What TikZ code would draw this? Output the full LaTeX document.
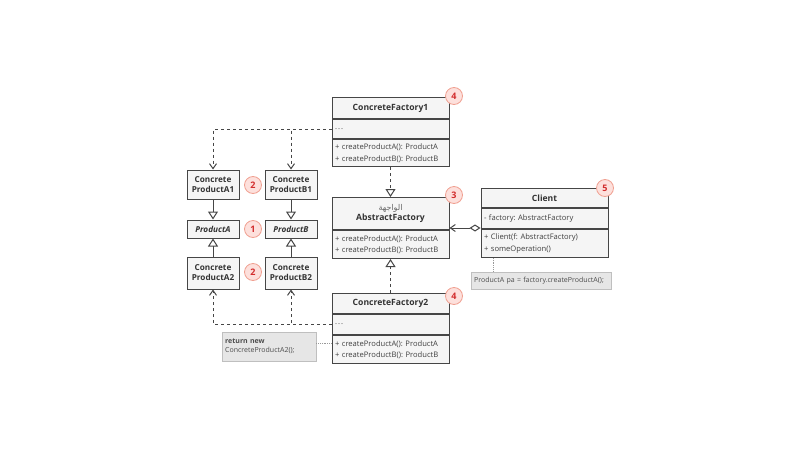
\documentclass[tikz,border=0pt]{standalone}
\usepackage{fontspec}
\setmainfont{Open Sans}
\newfontfamily\arabicfont[Script=Arabic]{DejaVu Sans}
\TeXXeTstate=1
\frenchspacing
\usetikzlibrary{positioning,arrows.meta}
\definecolor{BoxFill}{RGB}{245,245,245}
\definecolor{BoxLine}{RGB}{70,70,70}
\definecolor{NoteFill}{RGB}{230,230,230}
\definecolor{BadgeFill}{RGB}{253,224,220}
\definecolor{BadgeLine}{RGB}{240,160,145}
\definecolor{BadgeText}{RGB}{210,45,45}
\tikzset{%
	head/.style={draw=BoxLine, fill=BoxFill, line width=1pt, text=black!80, anchor=north,
		font=\fontsize{8.6}{10}\selectfont\bfseries, align=center,
		inner sep=1pt, minimum width=117pt},
	part/.style={draw=BoxLine, fill=BoxFill, line width=1pt, text=black!75, anchor=north,
		font=\fontsize{7.6}{11.5}\selectfont, align=left, text width=111pt,
		inner xsep=3pt, inner ysep=1pt},
	prod/.style={draw=BoxLine, fill=BoxFill, line width=1pt, text=black!80,
		font=\fontsize{8.2}{10}\selectfont\bfseries, align=center,
		minimum width=52pt, inner sep=1pt},
	badge/.style={circle, draw=BadgeLine, fill=BadgeFill, text=BadgeText, line width=0.8pt,
		font=\fontsize{9}{9}\selectfont\bfseries, minimum size=17pt, inner sep=0pt},
	note/.style={fill=NoteFill, draw=black!25, text=black!70, align=left,
		font=\fontsize{7}{9}\selectfont, inner sep=3pt, anchor=north west},
	impl/.style={dashed, line width=1pt, draw=BoxLine, -{Triangle[open,length=8pt,width=10pt]}},
	dep/.style={dashed, line width=1pt, draw=BoxLine, -{Straight Barb[length=5pt,width=7pt]}},
	inh/.style={line width=1pt, draw=BoxLine, -{Triangle[open,length=8pt,width=10pt]}},
	link/.style={densely dotted, draw=black!40, line width=0.8pt},
}
\begin{document}
\begin{tikzpicture}[x=1pt,y=-1pt]
    \useasboundingbox (0,0) rectangle (800,450);

    % factories
    \node [head, minimum height=21pt] (CF1) at (390.5,97) {ConcreteFactory1};
    \node [part, minimum height=19pt] (CF1attr) [below=0pt of CF1] {.\kern1pt.\kern1pt.};
    \node [part, minimum height=27pt] (CF1ops) [below=0pt of CF1attr]
        {+ createProductA(): ProductA\\+ createProductB(): ProductB};

    \node [head, minimum height=32pt] (AF) at (390.5,197)
        {{\mdseries\fontsize{8}{9}\arabicfont\color{black!60}\beginR الواجهة\endR}\\AbstractFactory};
    \node [part, minimum height=28pt] (AFops) [below=0pt of AF]
        {+ createProductA(): ProductA\\+ createProductB(): ProductB};

    \node [head, minimum height=20pt] (CF2) at (390.5,293) {ConcreteFactory2};
    \node [part, minimum height=20pt] (CF2attr) [below=0pt of CF2] {.\kern1pt.\kern1pt.};
    \node [part, minimum height=28pt] (CF2ops) [below=0pt of CF2attr]
        {+ createProductA(): ProductA\\+ createProductB(): ProductB};

    % client
    \node [head, minimum height=19pt, minimum width=127pt] (Client) at (544.5,188) {Client};
    \node [part, minimum height=20pt, text width=121pt] (ClientAttr) [below=0pt of Client]
        {- factory: AbstractFactory};
    \node [part, minimum height=28pt, text width=121pt] (ClientOps) [below=0pt of ClientAttr]
        {+ Client(f: AbstractFactory)\\+ someOperation()};
    \coordinate (ClientLink) at ([yshift=1pt]ClientOps.north west);

    % products
    \node [prod, minimum height=29pt] (A1) at (213,184.5) {Concrete\\ProductA1};
    \node [prod, minimum height=29pt] (B1) at (291,184.5) {Concrete\\ProductB1};
    \node [prod, minimum height=18pt] (PA) at (213,229) {\itshape ProductA};
    \node [prod, minimum height=18pt] (PB) at (291,229) {\itshape ProductB};
    \node [prod, minimum height=32pt] (A2) at (213,273) {Concrete\\ProductA2};
    \node [prod, minimum height=32pt] (B2) at (291,273) {Concrete\\ProductB2};

    % notes
    \node [note, text width=134pt, minimum height=17pt] (ClientNote) at (471,272)
        {ProductA pa = factory.createProductA();};
    \node [note, text width=88pt, minimum height=29pt] (CF2Note) at (222,332)
        {\bfseries return new\\\mdseries ConcreteProductA2();};

    % badges
    \node [badge] (N1) at (253,229) {1};
    \node [badge] (N2a) at (253,185) {2};
    \node [badge] (N2b) at (253,272) {2};
    \node [badge] (N3) at (454,195) {3};
    \node [badge] (N4a) at (454,96) {4};
    \node [badge] (N4b) at (454,296) {4};
    \node [badge] (N5) at (605,188) {5};

    % relations
    \draw [impl] (CF1ops.south) -- (AF.north);
    \draw [impl] (CF2.north) -- (AFops.south);
    \draw [inh] (A1) -- (PA);
    \draw [inh] (B1) -- (PB);
    \draw [inh] (A2) -- (PA);
    \draw [inh] (B2) -- (PB);
    \draw [dep] (CF1attr.west) -| (A1.north);
    \draw [dep] (CF1attr.west) -| (B1.north);
    \draw [dep] (CF2attr.west) -| (A2.south);
    \draw [dep] (CF2attr.west) -| (B2.south);
    \draw [line width=1pt, draw=BoxLine, {Diamond[open,length=11pt,width=7pt]}-{Straight Barb[length=5pt,width=7pt]}]
        (ClientLink) -- (ClientLink -| AF.east);
    \draw [link] (ClientOps.south -| 493,0) -- (ClientNote.north -| 493,0);
    \draw [link] (CF2Note.east |- 0,343) -- (CF2ops.west |- 0,343);

\end{tikzpicture}
\end{document}
